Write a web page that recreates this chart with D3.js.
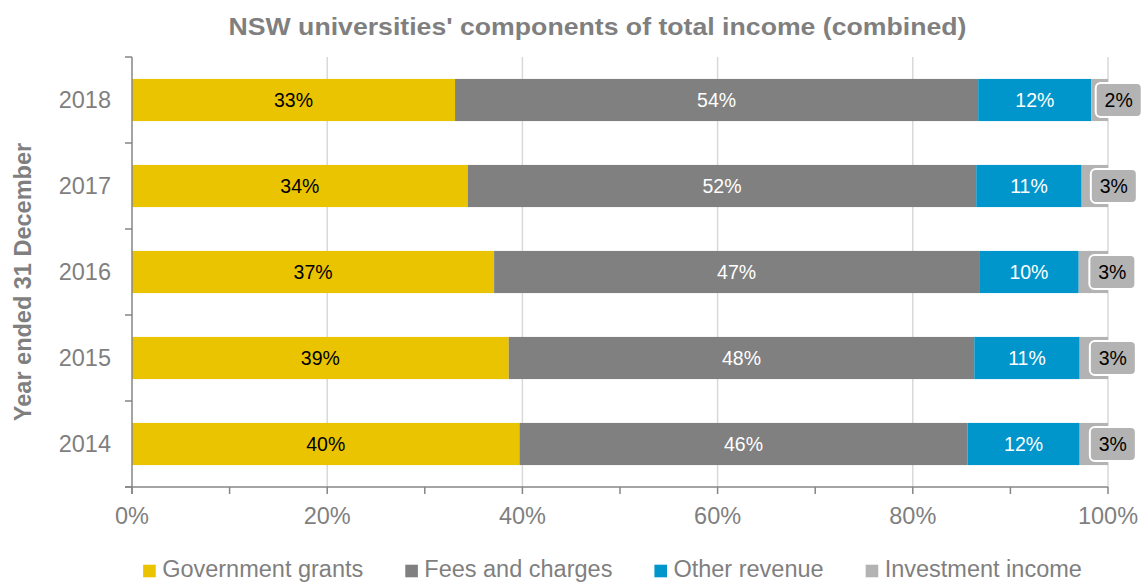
<!DOCTYPE html>
<html>
<head>
<meta charset="utf-8">
<script src="https://cdn.jsdelivr.net/npm/d3@7"></script>
<style>
  html, body { margin: 0; padding: 0; background: #fff; }
  svg { display: block; font-family: "Liberation Sans", Arial, sans-serif; }
</style>
</head>
<body>
<svg id="chart" width="1146" height="583"></svg>
<script>
// ---- data ----
const years = ["2018", "2017", "2016", "2015", "2014"];
const seriesNames = ["Government grants", "Fees and charges", "Other revenue", "Investment income"];
const govGrants   = [33.1, 34.4, 37.1, 38.6, 39.7];
const feesCharges = [53.6, 52.1, 49.7, 47.7, 45.9];
const otherRev    = [11.6, 10.8, 10.2, 10.8, 11.5];
const investInc   = [1.7, 2.7, 3.0, 2.9, 2.9];
const govLabels   = ["33%", "34%", "37%", "39%", "40%"];
const feesLabels  = ["54%", "52%", "47%", "48%", "46%"];
const otherLabels = ["12%", "11%", "10%", "11%", "12%"];
const investLabels = ["2%", "3%", "3%", "3%", "3%"];
const xTicks = [0, 20, 40, 60, 80, 100];
const xMinorTicks = [0, 10, 20, 30, 40, 50, 60, 70, 80, 90, 100];
const colors = ["#EAC400", "#808080", "#0096CC", "#B3B3B3"];
const labelColors = ["#000000", "#ffffff", "#ffffff", "#000000"];
const titleText = "NSW universities' components of total income (combined)";
const yTitle = "Year ended 31 December";

(function () {
// ---- layout ----
const svg = d3.select("#chart");
const mLeft = 132, mRight = 1108, mTop = 57, mBottom = 487;
const textGray = "#7F7F7F";
const axisGray = "#868686";

const x = d3.scaleLinear().domain([0, 100]).range([mLeft, mRight]);
const y = d3.scaleBand().domain(years).range([mTop, mBottom]).paddingInner(0.51).paddingOuter(0.255);

const seriesVals = [govGrants, feesCharges, otherRev, investInc];
const seriesLabels = [govLabels, feesLabels, otherLabels, investLabels];
const rows = years.map((yr, i) => {
  const r = { year: yr };
  seriesNames.forEach((s, k) => r[s] = seriesVals[k][i]);
  return r;
});
const stacked = d3.stack().keys(seriesNames)(rows);

// gridlines
svg.append("g").selectAll("line").data(xTicks.filter(d => d > 0)).join("line")
  .attr("x1", d => x(d)).attr("x2", d => x(d))
  .attr("y1", mTop).attr("y2", mBottom)
  .attr("stroke", "#D9D9D9").attr("stroke-width", 1.5);

// bars
const gBars = svg.append("g");
stacked.forEach((layer, k) => {
  gBars.append("g").attr("fill", colors[k]).selectAll("rect").data(layer).join("rect")
    .attr("x", d => x(d[0]))
    .attr("width", d => x(d[1]) - x(d[0]))
    .attr("y", d => y(d.data.year))
    .attr("height", y.bandwidth());
});

// in-bar labels (first three series)
stacked.slice(0, 3).forEach((layer, k) => {
  svg.append("g").selectAll("text").data(layer).join("text")
    .attr("x", d => (x(d[0]) + x(d[1])) / 2)
    .attr("y", d => y(d.data.year) + y.bandwidth() / 2)
    .attr("dy", "0.35em")
    .attr("text-anchor", "middle")
    .attr("font-size", "19.5px")
    .attr("fill", labelColors[k])
    .text((d, i) => seriesLabels[k][i]);
});

// callouts for investment income
const inv = stacked[3];
const gCall = svg.append("g");
const callW = 46, callH = 34;
const callCx = d => (x(d[0]) + x(d[1])) / 2 + 19;
gCall.selectAll("rect").data(inv).join("rect")
  .attr("x", d => callCx(d) - callW / 2)
  .attr("y", d => y(d.data.year) + y.bandwidth() / 2 - callH / 2)
  .attr("width", callW).attr("height", callH)
  .attr("rx", 5).attr("ry", 5)
  .attr("fill", colors[3]).attr("stroke", "#ffffff").attr("stroke-width", 2);
gCall.selectAll("text").data(inv).join("text")
  .attr("x", d => callCx(d))
  .attr("y", d => y(d.data.year) + y.bandwidth() / 2)
  .attr("dy", "0.35em")
  .attr("text-anchor", "middle")
  .attr("font-size", "19.5px")
  .attr("fill", labelColors[3])
  .text((d, i) => investLabels[i]);

// y axis
const gy = svg.append("g");
gy.append("line").attr("x1", mLeft).attr("x2", mLeft).attr("y1", mTop).attr("y2", mBottom + 7)
  .attr("stroke", axisGray).attr("stroke-width", 1.5);
const yBounds = years.map(d => y(d) - y.step() * y.paddingInner() / 2).concat([mBottom]);
gy.selectAll("line.tk").data(yBounds).join("line").attr("class", "tk")
  .attr("x1", mLeft - 7).attr("x2", mLeft).attr("y1", d => d).attr("y2", d => d)
  .attr("stroke", axisGray).attr("stroke-width", 1.5);
gy.selectAll("text").data(years).join("text")
  .attr("x", 111).attr("y", d => y(d) + y.bandwidth() / 2)
  .attr("dy", "0.35em").attr("text-anchor", "end")
  .attr("font-size", "23.5px").attr("fill", textGray)
  .text(d => d);

// x axis
const gx = svg.append("g");
gx.append("line").attr("x1", mLeft - 7).attr("x2", mRight).attr("y1", mBottom).attr("y2", mBottom)
  .attr("stroke", axisGray).attr("stroke-width", 1.5);
gx.selectAll("line.tk").data(xMinorTicks).join("line").attr("class", "tk")
  .attr("x1", d => x(d)).attr("x2", d => x(d)).attr("y1", mBottom).attr("y2", mBottom + 7)
  .attr("stroke", axisGray).attr("stroke-width", 1.5);
gx.selectAll("text").data(xTicks).join("text")
  .attr("x", d => x(d)).attr("y", 524)
  .attr("text-anchor", "middle")
  .attr("font-size", "23.5px").attr("fill", textGray)
  .text(d => d + "%");

// title
svg.append("text")
  .attr("x", 597.5).attr("y", 35)
  .attr("text-anchor", "middle")
  .attr("font-size", "24px").attr("font-weight", "bold").attr("fill", textGray)
  .attr("textLength", 738).attr("lengthAdjust", "spacingAndGlyphs")
  .text(titleText);

// y-axis title
svg.append("text")
  .attr("transform", "translate(31,282) rotate(-90)")
  .attr("text-anchor", "middle")
  .attr("font-size", "23.5px").attr("font-weight", "bold").attr("fill", textGray)
  .text(yTitle);

// legend
const gLeg = svg.append("g");
const sq = 12.6, sqGap = 6.4, itemGap = 42;
let cx = 0;
seriesNames.forEach((name, k) => {
  const g = gLeg.append("g");
  g.append("rect").attr("x", 0).attr("y", -sq / 2 - 6).attr("width", sq).attr("height", sq).attr("fill", colors[k]);
  const t = g.append("text").attr("x", sq + sqGap).attr("y", 0)
    .attr("font-size", "23.5px").attr("fill", textGray).text(name);
  const w = sq + sqGap + t.node().getComputedTextLength();
  g.attr("transform", `translate(${cx},0)`);
  cx += w + itemGap;
});
const totalW = cx - itemGap;
gLeg.attr("transform", `translate(${612.5 - totalW / 2},577)`);
})();
</script>
</body>
</html>
